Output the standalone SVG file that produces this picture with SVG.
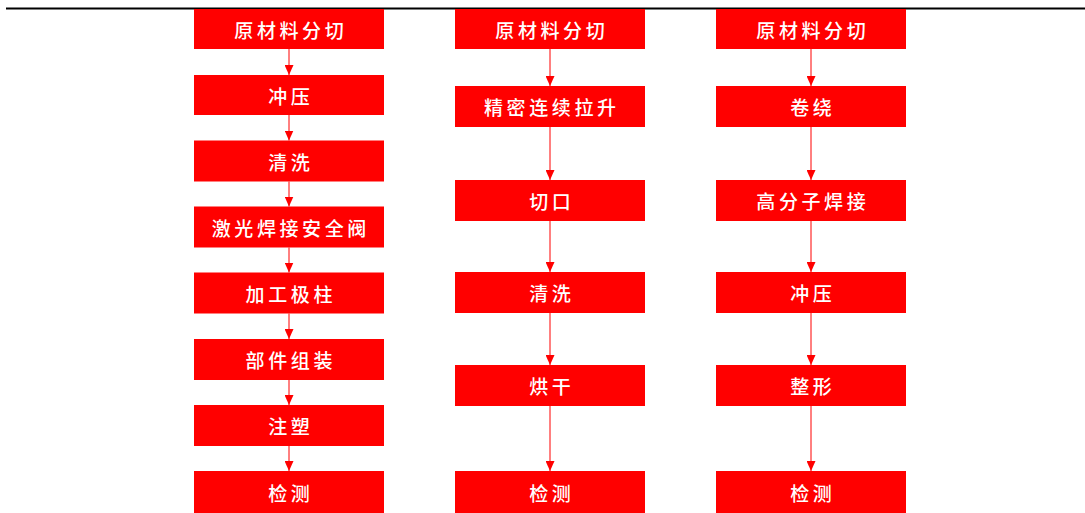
<svg xmlns="http://www.w3.org/2000/svg" width="1085" height="513" viewBox="0 0 1085 513">
<style>
.box{fill:#FF0000;}
.lbl{fill:#FFFFFF;font-family:"Noto Sans CJK SC","Noto Sans CJK JP",sans-serif;font-size:19px;font-weight:500;letter-spacing:3.6px;text-anchor:middle;dominant-baseline:central;}
.conn{stroke:#FF0000;stroke-width:1;fill:none;marker-end:url(#ah);}
</style>
<defs>
<marker id="ah" markerWidth="10" markerHeight="9" refX="10" refY="4.5" orient="auto" markerUnits="userSpaceOnUse">
<path d="M0,0 L10,4.5 L0,9 Z" fill="#FF0000"/>
</marker>
</defs>
<rect width="1085" height="513" fill="#FFFFFF"/>
<line x1="6" y1="8.5" x2="1085" y2="8.5" stroke="#000000" stroke-width="2"/>

<g id="connectors">
<line class="conn" x1="289" y1="49" x2="289" y2="75"/>
<line class="conn" x1="289" y1="115" x2="289" y2="140.5"/>
<line class="conn" x1="289" y1="181.5" x2="289" y2="206.5"/>
<line class="conn" x1="289" y1="247.5" x2="289" y2="272.5"/>
<line class="conn" x1="289" y1="313.5" x2="289" y2="339"/>
<line class="conn" x1="289" y1="380" x2="289" y2="405"/>
<line class="conn" x1="289" y1="446" x2="289" y2="471"/>

<line class="conn" x1="550" y1="49" x2="550" y2="86"/>
<line class="conn" x1="550" y1="127" x2="550" y2="180"/>
<line class="conn" x1="550" y1="221" x2="550" y2="272"/>
<line class="conn" x1="550" y1="313" x2="550" y2="365"/>
<line class="conn" x1="550" y1="406" x2="550" y2="471"/>

<line class="conn" x1="811" y1="49" x2="811" y2="86"/>
<line class="conn" x1="811" y1="127" x2="811" y2="180"/>
<line class="conn" x1="811" y1="221" x2="811" y2="272"/>
<line class="conn" x1="811" y1="313" x2="811" y2="365"/>
<line class="conn" x1="811" y1="406" x2="811" y2="471"/>
</g>

<g id="a1"><rect class="box" x="194" y="9" width="190" height="40"/><text class="lbl" x="290.8" y="29">原材料分切</text></g>
<g id="a2"><rect class="box" x="194" y="75" width="190" height="40"/><text class="lbl" x="290.8" y="95">冲压</text></g>
<g id="a3"><rect class="box" x="194" y="140.5" width="190" height="41"/><text class="lbl" x="290.8" y="161">清洗</text></g>
<g id="a4"><rect class="box" x="194" y="206.5" width="190" height="41"/><text class="lbl" x="290.8" y="227">激光焊接安全阀</text></g>
<g id="a5"><rect class="box" x="194" y="272.5" width="190" height="41"/><text class="lbl" x="290.8" y="293">加工极柱</text></g>
<g id="a6"><rect class="box" x="194" y="339" width="190" height="41"/><text class="lbl" x="290.8" y="359.5">部件组装</text></g>
<g id="a7"><rect class="box" x="194" y="405" width="190" height="41"/><text class="lbl" x="290.8" y="425.5">注塑</text></g>
<g id="a8"><rect class="box" x="194" y="471" width="190" height="42"/><text class="lbl" x="290.8" y="492">检测</text></g>

<g id="b1"><rect class="box" x="455" y="9" width="190" height="40"/><text class="lbl" x="551.8" y="29">原材料分切</text></g>
<g id="b2"><rect class="box" x="455" y="86" width="190" height="41"/><text class="lbl" x="551.8" y="106.5">精密连续拉升</text></g>
<g id="b3"><rect class="box" x="455" y="180" width="190" height="41"/><text class="lbl" x="551.8" y="200.5">切口</text></g>
<g id="b4"><rect class="box" x="455" y="272" width="190" height="41"/><text class="lbl" x="551.8" y="292.5">清洗</text></g>
<g id="b5"><rect class="box" x="455" y="365" width="190" height="41"/><text class="lbl" x="551.8" y="385.5">烘干</text></g>
<g id="b6"><rect class="box" x="455" y="471" width="190" height="42"/><text class="lbl" x="551.8" y="492">检测</text></g>

<g id="c1"><rect class="box" x="716" y="9" width="190" height="40"/><text class="lbl" x="812.8" y="29">原材料分切</text></g>
<g id="c2"><rect class="box" x="716" y="86" width="190" height="41"/><text class="lbl" x="812.8" y="106.5">卷绕</text></g>
<g id="c3"><rect class="box" x="716" y="180" width="190" height="41"/><text class="lbl" x="812.8" y="200.5">高分子焊接</text></g>
<g id="c4"><rect class="box" x="716" y="272" width="190" height="41"/><text class="lbl" x="812.8" y="292.5">冲压</text></g>
<g id="c5"><rect class="box" x="716" y="365" width="190" height="41"/><text class="lbl" x="812.8" y="385.5">整形</text></g>
<g id="c6"><rect class="box" x="716" y="471" width="190" height="42"/><text class="lbl" x="812.8" y="492">检测</text></g>
</svg>
